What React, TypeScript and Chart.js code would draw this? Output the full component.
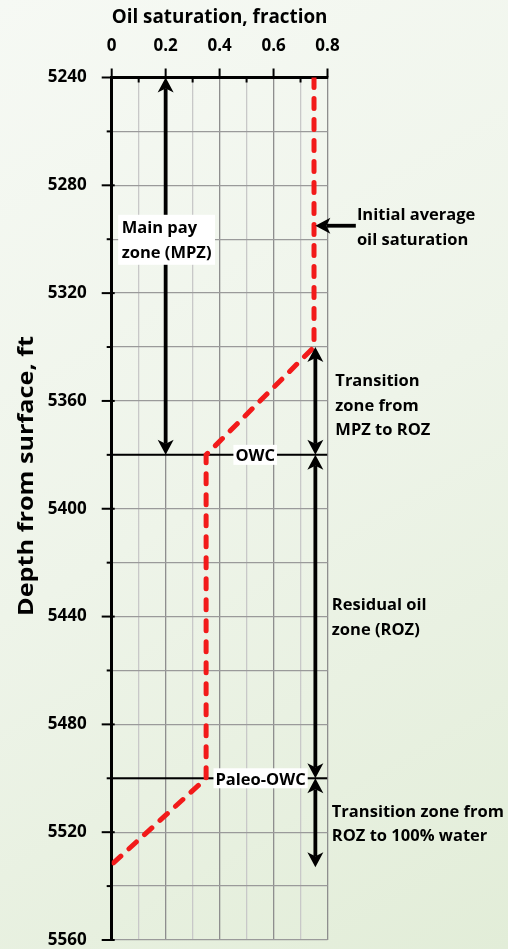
import React, { useEffect, useRef } from "react";
import { Chart, registerables } from "chart.js";

Chart.register(...registerables);

// ---------- data ----------
const xTickLabels = ["0", "0.2", "0.4", "0.6", "0.8"];
const depthTickLabels = ["5240", "5280", "5320", "5360", "5400", "5440", "5480", "5520", "5560"];

// oil saturation profile (red dashed line)
const saturationProfile = [0.75, 0.75, 0.35, 0.35, 0];
const profileDepths = [5240, 5340, 5380, 5500, 5532];

// contacts
const contactNames = ["OWC", "Paleo-OWC"];
const contactDepths = [5380, 5500];
const contactLabelX = [0.532, 0.552];

// zone arrows (double headed, vertical)
const zoneArrowX = [0.2, 0.755, 0.755, 0.755];
const zoneArrowTop = [5240, 5340, 5380, 5500];
const zoneArrowBottom = [5380, 5380, 5500, 5533];

// pointer arrow to initial average saturation
const pointerFromX = 0.905;
const pointerToX = 0.755;
const pointerDepth = 5295;

// text notes
const noteLines = [
  ["Main pay", "zone (MPZ)"],
  ["Initial average", "oil saturation"],
  ["Transition", "zone from", "MPZ to ROZ"],
  ["Residual oil", "zone (ROZ)"],
  ["Transition zone from", "ROZ to 100% water"],
];
const noteX = [0.037, 0.909, 0.829, 0.816, 0.816];
const noteDepth = [5297.8, 5292.9, 5354.5, 5437.6, 5514.3];
const noteBoxed = [true, false, false, false, false];

const xTitle = "Oil saturation, fraction";
const yTitle = "Depth from surface, ft";

// ---------- drawing helpers ----------
const FONT = '"Open Sans", "DejaVu Sans", sans-serif';

function drawArrow(
  ctx: CanvasRenderingContext2D,
  x1: number, y1: number, x2: number, y2: number,
  headStart: boolean, headEnd: boolean
) {
  const L = 15, W = 8, notch = 4;
  const dx = x2 - x1, dy = y2 - y1;
  const len = Math.hypot(dx, dy);
  const ux = dx / len, uy = dy / len;
  const nx = -uy, ny = ux;
  let sx = x1, sy = y1, ex = x2, ey = y2;
  if (headStart) { sx = x1 + ux * (L - notch); sy = y1 + uy * (L - notch); }
  if (headEnd) { ex = x2 - ux * (L - notch); ey = y2 - uy * (L - notch); }
  ctx.beginPath();
  ctx.moveTo(sx, sy);
  ctx.lineTo(ex, ey);
  ctx.lineWidth = 3.8;
  ctx.lineCap = "butt";
  ctx.stroke();
  const head = (tx: number, ty: number, dxu: number, dyu: number) => {
    ctx.beginPath();
    ctx.moveTo(tx, ty);
    ctx.lineTo(tx - dxu * L + nx * W, ty - dyu * L + ny * W);
    ctx.lineTo(tx - dxu * (L - notch), ty - dyu * (L - notch));
    ctx.lineTo(tx - dxu * L - nx * W, ty - dyu * L - ny * W);
    ctx.closePath();
    ctx.fill();
  };
  if (headEnd) head(x2, y2, ux, uy);
  if (headStart) head(x1, y1, -ux, -uy);
}

const annotationPlugin = {
  id: "annotations",
  afterDatasetsDraw(chart: any) {
    const { ctx, chartArea } = chart;
    const x = chart.scales.x;
    const y = chart.scales.y;
    ctx.save();

    // axis tick marks
    ctx.strokeStyle = "#000";
    ctx.lineWidth = 2;
    x.ticks.forEach((t: any) => {
      const px = x.getPixelForValue(t.value);
      const major = Math.round(t.value * 10) % 2 === 0;
      ctx.beginPath();
      if (major) { ctx.moveTo(px, chartArea.top - 9); ctx.lineTo(px, chartArea.top); }
      else { ctx.moveTo(px, chartArea.top); ctx.lineTo(px, chartArea.top + 5); }
      ctx.stroke();
    });
    y.ticks.forEach((t: any) => {
      const py = y.getPixelForValue(t.value);
      const major = Math.round(t.value) % 40 === 0;
      ctx.beginPath();
      if (major) { ctx.moveTo(chartArea.left - 10, py); ctx.lineTo(chartArea.left + 3, py); }
      else { ctx.moveTo(chartArea.left - 5, py); ctx.lineTo(chartArea.left, py); }
      ctx.stroke();
    });

    // arrows
    ctx.strokeStyle = "#000";
    ctx.fillStyle = "#000";
    zoneArrowX.forEach((v, i) => {
      const px = x.getPixelForValue(v);
      drawArrow(ctx, px, y.getPixelForValue(zoneArrowTop[i]), px, y.getPixelForValue(zoneArrowBottom[i]), true, true);
    });
    drawArrow(
      ctx,
      x.getPixelForValue(pointerFromX), y.getPixelForValue(pointerDepth),
      x.getPixelForValue(pointerToX), y.getPixelForValue(pointerDepth),
      false, true
    );

    // contact labels
    ctx.font = `bold 16.5px ${FONT}`;
    ctx.textBaseline = "alphabetic";
    ctx.textAlign = "center";
    contactNames.forEach((name, i) => {
      const cx = x.getPixelForValue(contactLabelX[i]);
      const cy = y.getPixelForValue(contactDepths[i]);
      const w = ctx.measureText(name).width;
      ctx.fillStyle = "#fff";
      ctx.fillRect(cx - w / 2 - 2, cy - 10, w + 4, 20);
      ctx.fillStyle = "#000";
      ctx.fillText(name, cx, cy + 6.5);
    });

    // notes
    const lineGap = 24.5;
    ctx.textAlign = "left";
    noteLines.forEach((lines, i) => {
      const lx = x.getPixelForValue(noteX[i]);
      const by = y.getPixelForValue(noteDepth[i]);
      if (noteBoxed[i]) {
        const w = Math.max(...lines.map((l) => ctx.measureText(l).width));
        ctx.fillStyle = "#fff";
        ctx.fillRect(lx - 3.5, by - 18.5, w + 7, (lines.length - 1) * lineGap + 25.5);
      }
      ctx.fillStyle = "#000";
      lines.forEach((l, k) => ctx.fillText(l, lx, by + k * lineGap));
    });

    // y-axis title
    ctx.font = `bold 21px ${FONT}`;
    const tw = ctx.measureText(yTitle).width;
    ctx.translate(33, 476);
    ctx.rotate(-Math.PI / 2);
    ctx.scale(280 / tw, 1);
    ctx.textAlign = "center";
    ctx.textBaseline = "alphabetic";
    ctx.fillStyle = "#000";
    ctx.fillText(yTitle, 0, 0);

    ctx.restore();
  },
};

export default function App() {
  const ref = useRef<HTMLCanvasElement>(null);

  useEffect(() => {
    const canvas = ref.current!;
    Chart.defaults.font.family = FONT;
    const chart = new Chart(canvas, {
      type: "scatter",
      data: {
        datasets: [
          {
            label: "Oil saturation profile",
            data: saturationProfile.map((s, i) => ({ x: s, y: profileDepths[i] })),
            showLine: true,
            borderColor: "#f21a1a",
            borderWidth: 5,
            borderDash: [10, 11],
            borderCapStyle: "round",
            pointRadius: 0,
            tension: 0,
          },
          ...contactDepths.map((d, i) => ({
            label: contactNames[i],
            data: [{ x: 0, y: d }, { x: 0.8, y: d }],
            showLine: true,
            borderColor: "#000",
            borderWidth: 2,
            pointRadius: 0,
          })),
        ],
      },
      options: {
        animation: false,
        responsive: false,
        events: [],
        layout: { autoPadding: false, padding: { left: 0, top: 0, right: 180.5, bottom: 9 } },
        plugins: { legend: { display: false }, tooltip: { enabled: false } },
        scales: {
          x: {
            type: "linear",
            position: "top",
            min: 0,
            max: 0.8,
            afterFit: (s: any) => {
              s.height = 77.5;
              s.paddingLeft = 0;
              s.paddingRight = 0;
            },
            ticks: {
              stepSize: 0.1,
              autoSkip: false,
              maxRotation: 0,
              padding: 21.5,
              color: "#000",
              font: { size: 17, weight: "bold" },
              callback: (v: any) => {
                const idx = xTickLabels.indexOf(String(Math.round(Number(v) * 10) / 10));
                return idx >= 0 ? xTickLabels[idx] : "";
              },
            },
            grid: {
              drawTicks: false,
              color: (c: any) => (c.tick && Math.round(c.tick.value * 10) % 2 === 0 ? "#8e8e8e" : "#c8c8c8"),
              lineWidth: 1.3,
            },
            border: { color: "#000", width: 3 },
            title: {
              display: true,
              text: xTitle,
              color: "#000",
              font: { size: 20, weight: "bold" },
              padding: { top: 5, bottom: 0 },
            },
          },
          y: {
            type: "linear",
            reverse: true,
            min: 5240,
            max: 5560,
            afterFit: (s: any) => {
              s.width = 111.7;
              s.paddingTop = 0;
              s.paddingBottom = 0;
            },
            ticks: {
              stepSize: 20,
              autoSkip: false,
              padding: 25,
              color: "#000",
              font: { size: 17, weight: "bold" },
              callback: (v: any) => {
                const idx = depthTickLabels.indexOf(String(Math.round(Number(v))));
                return idx >= 0 ? depthTickLabels[idx] : "";
              },
            },
            grid: { drawTicks: false, color: "#9a9a9a", lineWidth: 1.3 },
            border: { color: "#000", width: 3 },
          },
        },
      } as any,
      plugins: [annotationPlugin],
    });
    return () => chart.destroy();
  }, []);

  return (
    <div
      style={{
        position: "fixed",
        left: 0,
        top: 0,
        width: 508,
        height: 949,
        background: "linear-gradient(150deg, #f6f9f4 0%, #eef4e9 50%, #e2edd8 100%)",
      }}
    >
      <canvas ref={ref} width={508} height={949} style={{ display: "block" }} />
    </div>
  );
}
